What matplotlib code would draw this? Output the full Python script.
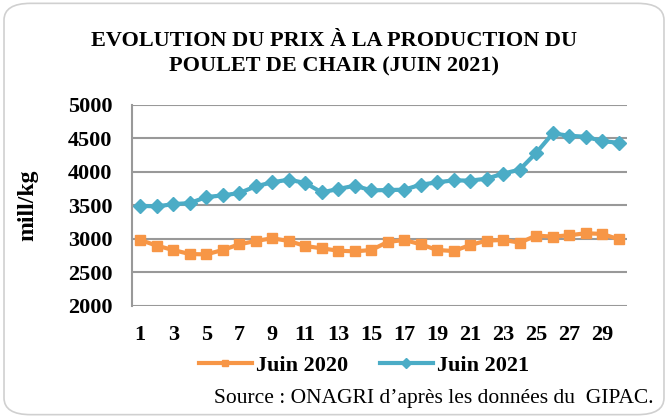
import matplotlib
matplotlib.use("Agg")
import matplotlib.pyplot as plt
from matplotlib.patches import FancyBboxPatch

days = list(range(1, 31))
juin_2020 = [2985, 2900, 2835, 2775, 2770, 2835, 2920, 2970, 3010, 2970,
             2895, 2860, 2825, 2815, 2835, 2955, 2985, 2920, 2835, 2820,
             2910, 2975, 2985, 2945, 3050, 3035, 3055, 3085, 3075, 2995]
juin_2021 = [3495, 3485, 3520, 3535, 3625, 3650, 3685, 3785, 3845, 3885,
             3835, 3695, 3745, 3795, 3725, 3730, 3735, 3810, 3845, 3875,
             3870, 3900, 3975, 4035, 4285, 4575, 4540, 4525, 4460, 4435]
yticks = [2000, 2500, 3000, 3500, 4000, 4500, 5000]

plt.rcParams['font.family'] = ['Liberation Serif', 'DejaVu Serif']

fig = plt.figure(figsize=(6.68, 4.18), dpi=100)
border = FancyBboxPatch((0.006, 0.008), 0.988, 0.984, boxstyle="round,pad=0,rounding_size=0.04",
                        transform=fig.transFigure, facecolor='none', edgecolor='#d0d0d0',
                        lw=1.2, zorder=-10)
fig.patches.append(border)

ax = fig.add_axes([0.1976, 0.268, 0.741, 0.481])
ax.set_facecolor('none')
ax.plot(days, juin_2020, color='#F79646', lw=3, marker='s', ms=7, label='Juin 2020')
ax.plot(days, juin_2021, color='#4BACC6', lw=3, marker='D', ms=7, label='Juin 2021')

ax.set_xlim(0.5, 30.5)
ax.set_ylim(2000, 5000)
ax.set_yticks(yticks)
ax.set_xticks(days[::2])
ax.tick_params(length=0, labelsize=16, pad=14)
for lbl in ax.get_xticklabels() + ax.get_yticklabels():
    lbl.set_fontweight('bold')
ax.yaxis.grid(True, color='#999999', lw=1.5)
ax.set_axisbelow(True)
for s in ['top', 'right', 'bottom']:
    ax.spines[s].set_visible(False)
ax.spines['left'].set_color('#999999')
ax.spines['left'].set_linewidth(1.5)
ax.set_ylabel('mill/kg', fontsize=17, fontweight='bold')
ax.yaxis.set_label_coords(-0.19, 0.5)

fig.text(0.5, 0.871, 'EVOLUTION DU PRIX À LA PRODUCTION DU\nPOULET DE CHAIR (JUIN 2021)',
         ha='center', va='center', fontsize=16, fontweight='bold', linespacing=1.4)

leg = ax.legend(loc='center', bbox_to_anchor=(0.469, -0.2985), ncol=2, frameon=False,
                prop={'size': 16, 'weight': 'bold'}, handlelength=2.4, columnspacing=1.4,
                handletextpad=0.2, markerscale=0.7)

fig.text(0.978, 0.046, "Source : ONAGRI d\u2019apr\u00e8s les donn\u00e9es du  GIPAC.",
         ha='right', va='center', fontsize=15.5)

fig.savefig('out.png', dpi=100)
